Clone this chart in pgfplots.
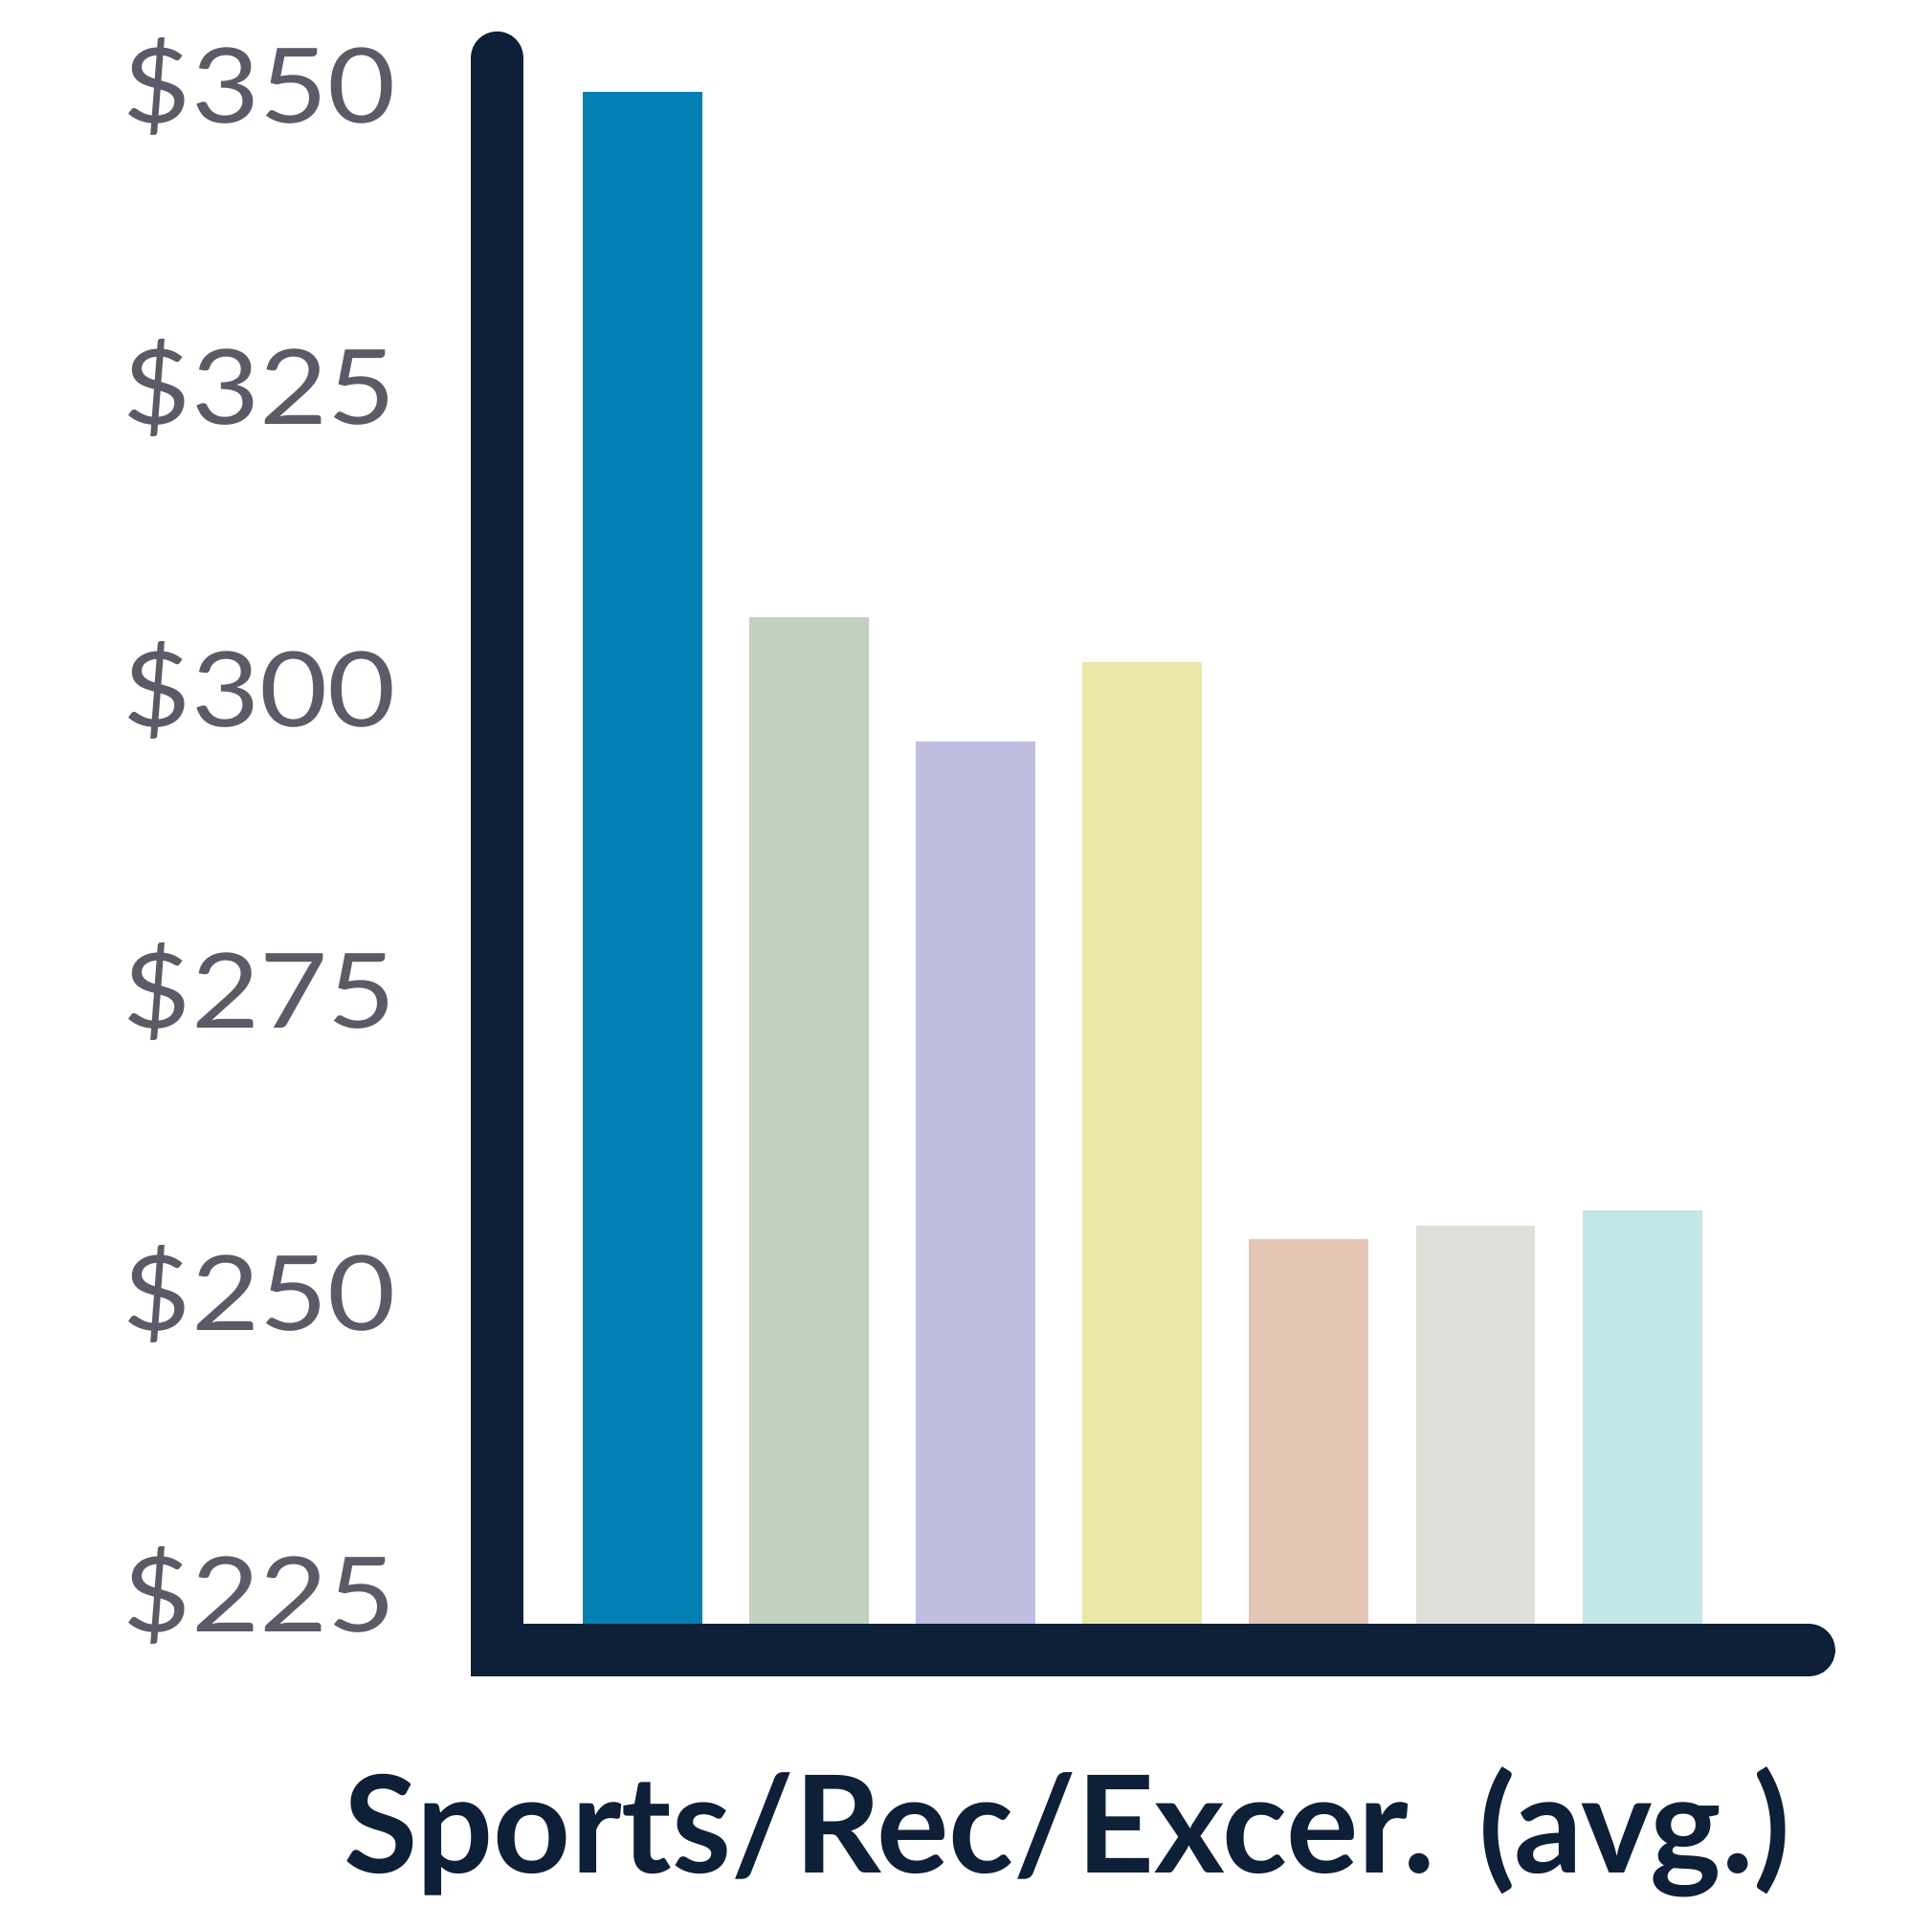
\documentclass[border=0pt]{standalone}
\usepackage{graphicx}
\usepackage{pgfplots}
\pgfplotsset{compat=1.18}
\usepackage{fontspec}
\setmainfont{Lato}
\newcommand{\dl}[1]{\scalebox{1.13}[1]{\$#1}}

\definecolor{axisnavy}{HTML}{0E1F38}
\definecolor{tickgray}{HTML}{5B5A66}
\definecolor{cA}{HTML}{0580B4}
\definecolor{cB}{HTML}{C1D2BD}
\definecolor{cC}{HTML}{BFBDE0}
\definecolor{cD}{HTML}{EAE6A8}
\definecolor{cE}{HTML}{E5C5B4}
\definecolor{cF}{HTML}{DFDFDA}
\definecolor{cG}{HTML}{C3E6E7}

\begin{document}
\begin{tikzpicture}
\begin{axis}[
    name=ax,
    scale only axis,
    width=10.43cm, height=12.71cm,
    xmin=0.2865, xmax=8.0,
    ymin=222.65, ymax=352.35,
    axis line style={draw=none},
    xtick=\empty,
    ytick={225,250,275,300,325,350},
    yticklabels={\dl{225},\dl{250},\dl{275},\dl{300},\dl{325},\dl{350}},
    major tick length=0pt,
    yticklabel style={anchor=east, inner sep=0pt, xshift=-1.03cm,
        font=\fontsize{24}{28}\selectfont, text=tickgray},
    xlabel={Sports/Rec/Excer. (avg.)},
    xlabel style={at={(axis description cs:0.423,0)}, anchor=base,
        yshift=-2.02cm, inner sep=0pt,
        font=\bfseries\fontsize{31.2}{36}\selectfont, text=axisnavy},
    ybar, bar width=0.97cm, bar shift=0pt,
]
\addplot[fill=cA, draw=none] coordinates {(1,349.5)};
\addplot[fill=cB, draw=none] coordinates {(2,306.0)};
\addplot[fill=cC, draw=none] coordinates {(3,295.7)};
\addplot[fill=cD, draw=none] coordinates {(4,302.3)};
\addplot[fill=cE, draw=none] coordinates {(5,254.5)};
\addplot[fill=cF, draw=none] coordinates {(6,255.6)};
\addplot[fill=cG, draw=none] coordinates {(7,256.9)};

\coordinate (TL) at (rel axis cs:0,1);
\coordinate (BL) at (rel axis cs:0,0);
\coordinate (BR) at (rel axis cs:1,0);
\end{axis}
\draw[axisnavy, line width=0.43cm, line cap=round, line join=miter]
    ([xshift=-0.215cm]TL) -- ([xshift=-0.215cm, yshift=-0.215cm]BL)
    -- ([yshift=-0.215cm]BR);
\path ([xshift=-4.25cm, yshift=-2.29cm]BL) rectangle ([xshift=1.0cm, yshift=0.47cm]BR |- TL);
\end{tikzpicture}
\end{document}
